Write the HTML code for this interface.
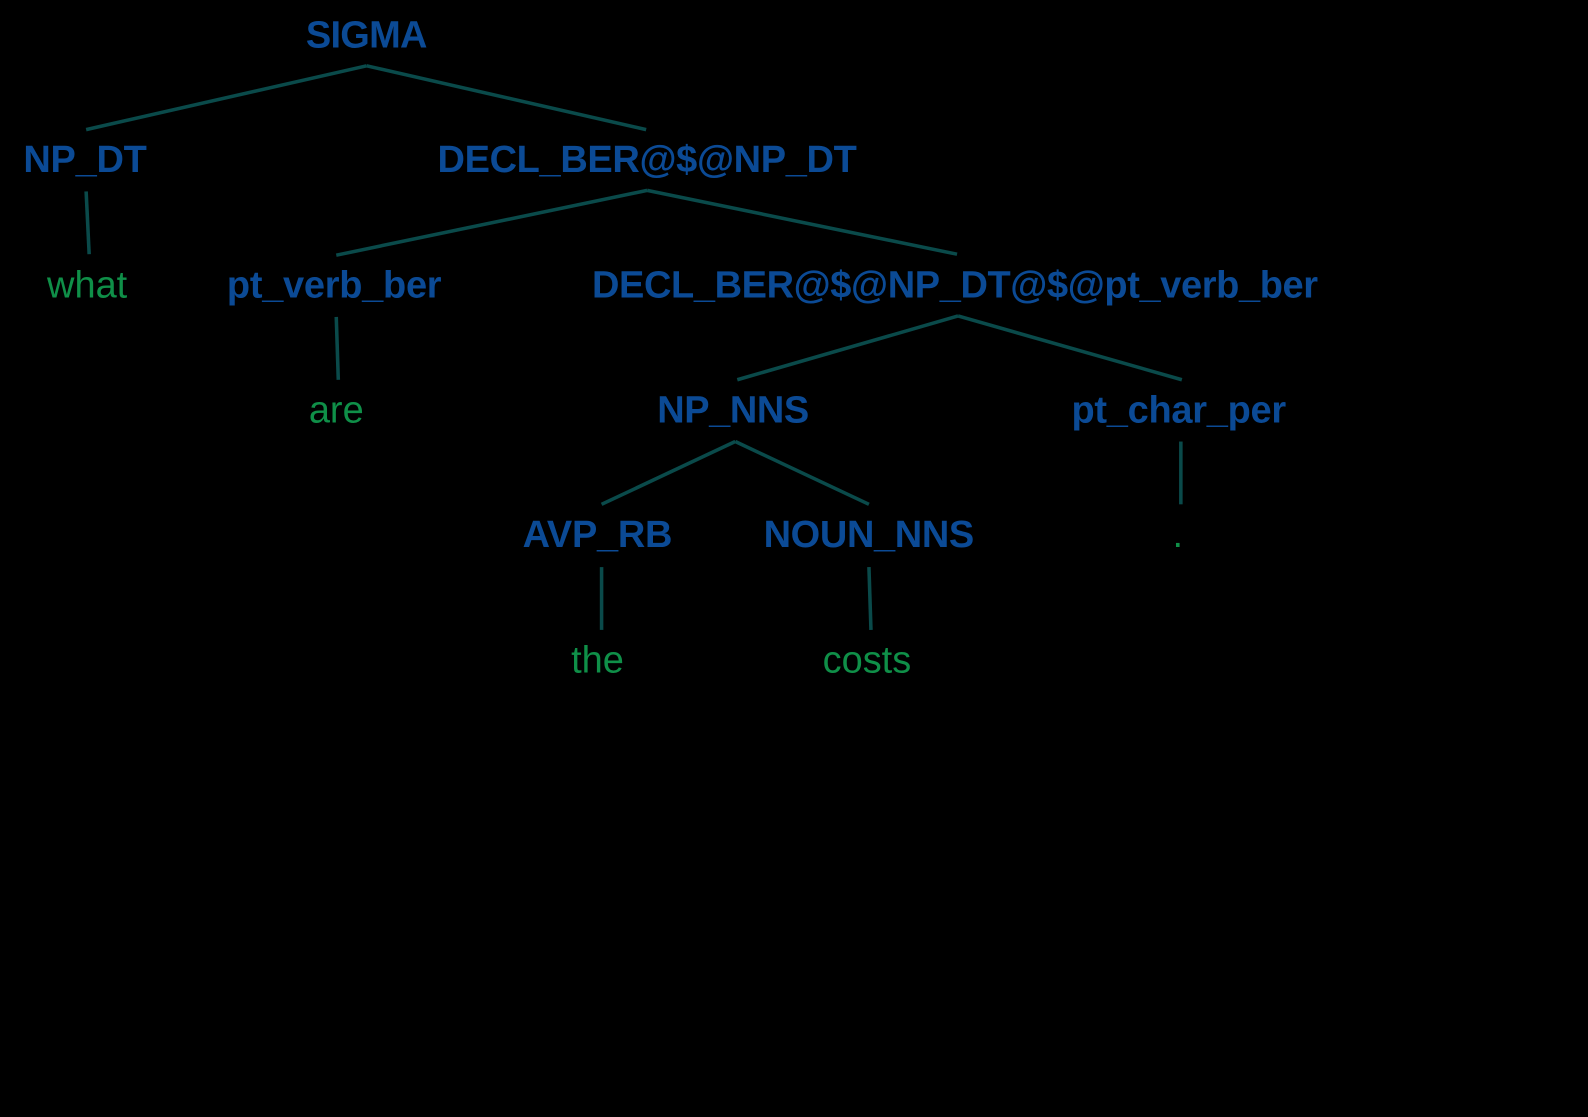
<!DOCTYPE html>
<html><head><style>
html,body{margin:0;padding:0;background:#000;}
svg{display:block}
text{font-family:"Liberation Sans",Arial,sans-serif;font-size:37.5px;text-anchor:middle}
.n{fill:#0b4a95;font-weight:bold}
.w{fill:#0f8f48}
line{stroke:#0a4a4a;stroke-width:3.5}
</style></head><body>
<svg width="1588" height="1117" viewBox="0 0 1568 1103" xmlns="http://www.w3.org/2000/svg">
<rect width="1568" height="1103" fill="#000"/>
<line x1="362" y1="65" x2="85" y2="128"/>
<line x1="362" y1="65" x2="638" y2="128"/>
<line x1="85" y1="189" x2="88" y2="251"/>
<line x1="639" y1="188" x2="332" y2="252"/>
<line x1="639" y1="188" x2="945" y2="251"/>
<line x1="332" y1="313" x2="334" y2="375"/>
<line x1="946" y1="312" x2="728" y2="375"/>
<line x1="946" y1="312" x2="1167" y2="375"/>
<line x1="726" y1="436" x2="594" y2="498"/>
<line x1="726" y1="436" x2="858" y2="498"/>
<line x1="1166" y1="436" x2="1166" y2="498"/>
<line x1="594" y1="560" x2="594" y2="622"/>
<line x1="858" y1="560" x2="860" y2="622"/>
<text class="n" x="362" y="47" textLength="120">SIGMA</text>
<text class="n" x="84" y="170" textLength="122">NP_DT</text>
<text class="n" x="639" y="170" textLength="414">DECL_BER@$@NP_DT</text>
<text class="w" x="86" y="294">what</text>
<text class="n" x="330" y="294" textLength="212">pt_verb_ber</text>
<text class="n" x="943" y="294" textLength="717">DECL_BER@$@NP_DT@$@pt_verb_ber</text>
<text class="w" x="332" y="417">are</text>
<text class="n" x="724" y="417" textLength="150">NP_NNS</text>
<text class="n" x="1164" y="417" textLength="212">pt_char_per</text>
<text class="n" x="590" y="540" textLength="148">AVP_RB</text>
<text class="n" x="858" y="540" textLength="208">NOUN_NNS</text>
<text class="w" x="1163" y="540">.</text>
<text class="w" x="590" y="664">the</text>
<text class="w" x="856" y="664">costs</text>
</svg>
</body></html>
